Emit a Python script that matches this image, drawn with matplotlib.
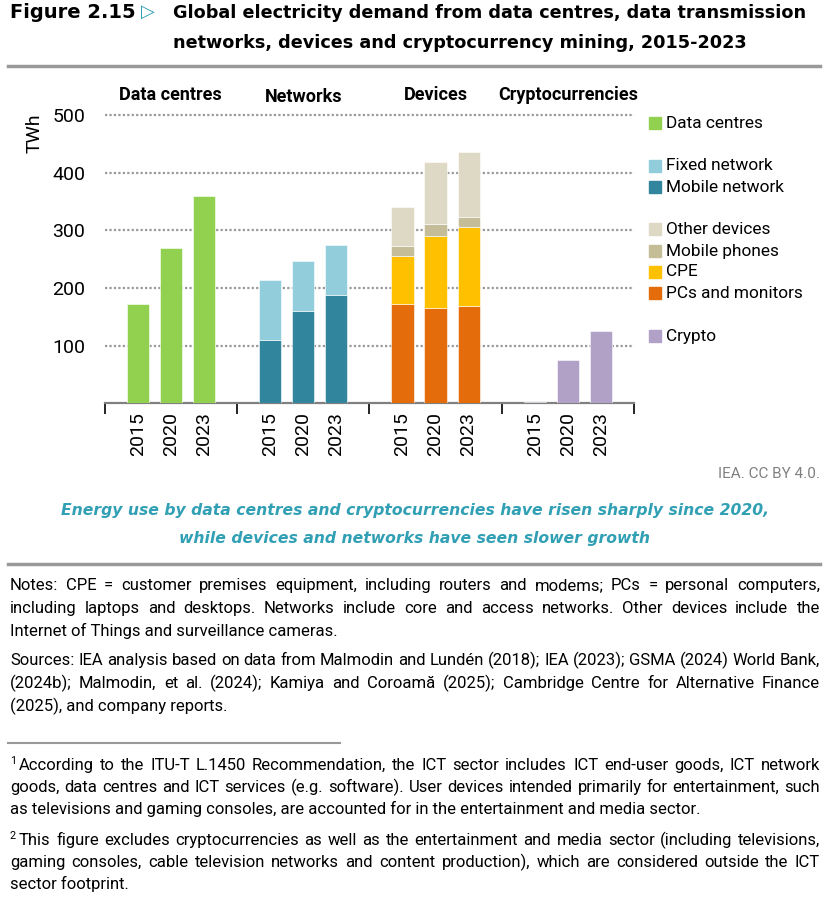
import matplotlib
matplotlib.use("Agg")
import matplotlib.pyplot as plt
from matplotlib.patches import Rectangle
from matplotlib.lines import Line2D
from matplotlib import font_manager

W, H = 828, 900

# ---- data (TWh) ----
years = ["2015", "2020", "2023"]
groups = ["Data centres", "Networks", "Devices", "Cryptocurrencies"]

data_centres = [172, 269, 360]
mobile_network = [109, 160, 188]
fixed_network = [105, 86, 87]
pcs_monitors = [172, 165, 169]
cpe = [84, 126, 136]
mobile_phones = [16, 20, 18]
other_devices = [69, 108, 112]
crypto = [3, 75, 125]

c_dc = "#92D050"
c_fixed = "#92CDDC"
c_mobile = "#31859C"
c_other = "#DDD9C4"
c_phones = "#C4BD97"
c_cpe = "#FFC000"
c_pcs = "#E46C0A"
c_crypto = "#B2A1C7"
teal = "#31A0B4"

avail = set(f.name for f in font_manager.fontManager.ttflist)
body_font = "Liberation Sans Narrow" if "Liberation Sans Narrow" in avail else "Roboto"
title_font = "DejaVu Sans"
plt.rcParams["font.family"] = [body_font, "DejaVu Sans"]

fig = plt.figure(figsize=(W / 100, H / 100), dpi=100)
renderer = fig.canvas.get_renderer()


def fx(x):
    return x / W


def fy(y):
    return 1 - y / H


def text_width(s, size, **kw):
    t = fig.text(0, 0, s, fontsize=size, **kw)
    w = t.get_window_extent(renderer).width
    t.remove()
    return w


def fit_size(s, target, **kw):
    return 12 * target / text_width(s, 12, **kw)


def justify(line, ybase, x0, x1, size, **kw):
    words = line.split(" ")
    ws = [text_width(w, size, **kw) for w in words]
    gap = (x1 - x0 - sum(ws)) / (len(words) - 1)
    x = x0
    for w, wd in zip(words, ws):
        fig.text(fx(x), fy(ybase), w, fontsize=size, ha="left", va="baseline", **kw)
        x += wd + gap


# ---- chart ----
ax_left, ax_right = 104.7, 634
y0px = 403.3
ppu = (403.3 - 115) / 500
ymax = 510
ax = fig.add_axes([fx(ax_left), 1 - y0px / H, (ax_right - ax_left) / W, ymax * ppu / H])

bw = 0.67
pos = [[4 * g + 1 + i for i in range(3)] for g in range(4)]

ax.bar(pos[0], data_centres, bw, color=c_dc, edgecolor="white", linewidth=0.4, zorder=3)

ax.bar(pos[1], mobile_network, bw, color=c_mobile, edgecolor="white", linewidth=0.4, zorder=3)
ax.bar(pos[1], fixed_network, bw, bottom=mobile_network, color=c_fixed, edgecolor="white", linewidth=0.4, zorder=3)

bottom = [0, 0, 0]
for vals, col in [(pcs_monitors, c_pcs), (cpe, c_cpe), (mobile_phones, c_phones), (other_devices, c_other)]:
    ax.bar(pos[2], vals, bw, bottom=bottom, color=col, edgecolor="white", linewidth=0.4, zorder=3)
    bottom = [b + v for b, v in zip(bottom, vals)]

ax.bar(pos[3], crypto, bw, color=c_crypto, edgecolor="white", linewidth=0.4, zorder=3)

ax.set_xlim(0, 16)
ax.set_ylim(0, ymax)
ax.set_yticks([100, 200, 300, 400, 500])
ax.yaxis.grid(True, color="#999999", linestyle=(0, (1, 1)), linewidth=1.6, zorder=0)
ax.tick_params(axis="y", length=0, pad=14, labelsize=14)

xt = [p for g in pos for p in g]
ax.set_xticks(xt)
ax.set_xticklabels(years * 4, rotation=90, fontsize=14)
ax.tick_params(axis="x", which="major", length=0, pad=6)
ax.set_xticks([0, 4, 8, 12, 16], minor=True)
ax.tick_params(axis="x", which="minor", length=8, width=1.2, color="black", direction="out")

for s in ["top", "right", "left"]:
    ax.spines[s].set_visible(False)
ax.spines["bottom"].set_color("#808080")
ax.spines["bottom"].set_linewidth(1.6)

for g, name in enumerate(groups):
    yoff = 0.0 if name != "Networks" else -0.008
    ax.text(4 * g + 2, 1.048 + yoff, name, transform=ax.get_xaxis_transform(),
            ha="center", va="center", fontsize=13, fontweight="bold")

fig.text(fx(35), fy(133), "TWh", rotation=90, ha="center", va="center", fontsize=14)

# legend
leg = [
    ("Data centres", c_dc, 123),
    ("Fixed network", c_fixed, 166),
    ("Mobile network", c_mobile, 187),
    ("Other devices", c_other, 229),
    ("Mobile phones", c_phones, 251),
    ("CPE", c_cpe, 272),
    ("PCs and monitors", c_pcs, 293),
    ("Crypto", c_crypto, 336),
]
lsize = fit_size("PCs and monitors", 137)
for lab, col, yc in leg:
    fig.patches.append(Rectangle((fx(649), fy(yc + 6)), 12 / W, 12 / H, color=col,
                                 transform=fig.transFigure, figure=fig))
    fig.text(fx(666), fy(yc), lab, ha="left", va="center", fontsize=lsize)

# ---- title ----
tsize = fit_size("Global electricity demand from data centres, data transmission", 632,
                 family=title_font, fontweight="bold")
fsize = fit_size("Figure 2.15", 125, family=title_font, fontweight="bold")
fig.text(fx(10), fy(13), "Figure 2.15", ha="left", va="center", fontsize=fsize,
         family=title_font, fontweight="bold")
fig.text(fx(141), fy(12), "\u25B7", ha="left", va="center", fontsize=13, color=teal,
         family=title_font, fontweight="bold")
fig.text(fx(173), fy(13), "Global electricity demand from data centres, data transmission",
         ha="left", va="center", fontsize=tsize, family=title_font, fontweight="bold")
fig.text(fx(173), fy(43), "networks, devices and cryptocurrency mining, 2015-2023",
         ha="left", va="center", fontsize=tsize, family=title_font, fontweight="bold")

fig.add_artist(Line2D([fx(8), fx(820)], [fy(66), fy(66)], color="#999999", linewidth=2.5))

fig.text(fx(820), fy(474), "IEA. CC BY 4.0.", ha="right", va="center", fontsize=11, color="#808080")

ssize = fit_size("Energy use by data centres and cryptocurrencies have risen sharply since 2020,", 706,
                 family=title_font, fontweight="bold", style="italic")
fig.text(fx(415), fy(510), "Energy use by data centres and cryptocurrencies have risen sharply since 2020,",
         ha="center", va="center", fontsize=ssize, color=teal, family=title_font,
         fontweight="bold", style="italic")
fig.text(fx(415), fy(538), "while devices and networks have seen slower growth",
         ha="center", va="center", fontsize=ssize, color=teal, family=title_font,
         fontweight="bold", style="italic")

fig.add_artist(Line2D([fx(8), fx(820)], [fy(564), fy(564)], color="#999999", linewidth=2.5))

# ---- notes ----
nsize = fit_size("Internet of Things and surveillance cameras.", 328)
notes = [
    ("Notes: CPE = customer premises equipment, including routers and modems; PCs = personal computers,", 590, True),
    ("including laptops and desktops. Networks include core and access networks. Other devices include the", 613, True),
    ("Internet of Things and surveillance cameras.", 636, False),
    ("Sources: IEA analysis based on data from Malmodin and Lundén (2018); IEA (2023); GSMA (2024) World Bank,", 665, True),
    ("(2024b); Malmodin, et al. (2024); Kamiya and Coroamă (2025); Cambridge Centre for Alternative Finance", 688, True),
    ("(2025), and company reports.", 711, False),
]
for line, yb, just in notes:
    if just:
        justify(line, yb, 10, 820, nsize)
    else:
        fig.text(fx(10), fy(yb), line, ha="left", va="baseline", fontsize=nsize)

fig.add_artist(Line2D([fx(8), fx(340)], [fy(743), fy(743)], color="#999999", linewidth=1.5))

foot = [
    ("According to the ITU-T L.1450 Recommendation, the ICT sector includes ICT end-user goods, ICT network", 770, True, 19, "1"),
    ("goods, data centres and ICT services (e.g. software). User devices intended primarily for entertainment, such", 792, True, 10, None),
    ("as televisions and gaming consoles, are accounted for in the entertainment and media sector.", 814, False, 10, None),
    ("This figure excludes cryptocurrencies as well as the entertainment and media sector (including televisions,", 845, True, 19, "2"),
    ("gaming consoles, cable television networks and content production), which are considered outside the ICT", 867, True, 10, None),
    ("sector footprint.", 889, False, 10, None),
]
for line, yb, just, x0, sup in foot:
    if sup:
        fig.text(fx(10), fy(yb - 6), sup, ha="left", va="baseline", fontsize=nsize * 0.65)
    if just:
        justify(line, yb, x0, 820, nsize)
    else:
        fig.text(fx(x0), fy(yb), line, ha="left", va="baseline", fontsize=nsize)

fig.savefig("out.png", dpi=100)
